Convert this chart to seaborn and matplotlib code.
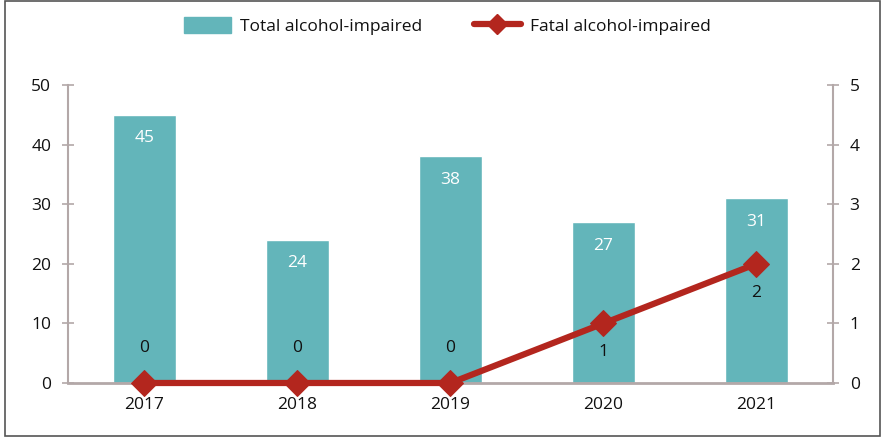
import matplotlib
matplotlib.use("Agg")
import matplotlib.pyplot as plt
import matplotlib.patches as mpatches
from matplotlib.lines import Line2D
import seaborn as sns
import pandas as pd

years = ["2017", "2018", "2019", "2020", "2021"]
total_impaired = [45, 24, 38, 27, 31]
fatal_impaired = [0, 0, 0, 1, 2]

bar_color = "#63b5ba"
line_color = "#b3261e"
spine_color = "#b3a8a8"

sns.set_style("white")
plt.rcParams["font.family"] = ["Open Sans", "DejaVu Sans"]
plt.rcParams["text.color"] = "#111111"

df = pd.DataFrame({"year": years, "total": total_impaired, "fatal": fatal_impaired})

fig = plt.figure(figsize=(8.84, 4.38), dpi=100)
ax = fig.add_axes([0.0769, 0.1256, 0.8654, 0.6804])

sns.barplot(data=df, x="year", y="total", color=bar_color, width=0.41,
            saturation=1, ax=ax)
ax.set_xlim(-0.5, 4.5)
ax.set_ylim(0, 50)
ax.set_yticks(range(0, 51, 10))
ax.set_xlabel("")
ax.set_ylabel("")

for i, v in enumerate(total_impaired):
    ax.text(i, v - 2.6, str(v), ha="center", va="top", color="white", fontsize=12.5)

ax2 = ax.twinx()
sns.lineplot(x=range(len(years)), y=fatal_impaired, color=line_color, lw=4.5,
             marker="D", markersize=13, markeredgecolor=line_color, ax=ax2)
for ln in ax2.lines:
    ln.set_clip_on(False)
    ln.set_zorder(5)
ax2.set_ylim(0, 5)
ax2.set_yticks(range(0, 6))
ax2.set_xlim(-0.5, 4.5)

for i, v in enumerate(fatal_impaired):
    if v == 0:
        ax2.text(i, v + 0.45, str(v), ha="center", va="bottom", fontsize=12.5)
    else:
        ax2.text(i, v - 0.35, str(v), ha="center", va="top", fontsize=12.5)

for a in (ax, ax2):
    for s in a.spines.values():
        s.set_visible(False)
    a.tick_params(axis="y", direction="inout", length=8, width=1.2,
                  color=spine_color, labelsize=12.5, labelcolor="#111111", pad=8)
ax.spines["left"].set_visible(True)
ax.spines["left"].set_color(spine_color)
ax.spines["left"].set_linewidth(1.5)
ax.spines["bottom"].set_visible(True)
ax.spines["bottom"].set_color(spine_color)
ax.spines["bottom"].set_linewidth(2)
ax2.spines["right"].set_visible(True)
ax2.spines["right"].set_color(spine_color)
ax2.spines["right"].set_linewidth(1.5)

ax.set_xticks([0.5, 1.5, 2.5, 3.5], minor=True)
ax.tick_params(axis="x", which="major", length=0, labelsize=12.5,
               labelcolor="#111111", pad=10)
ax.tick_params(axis="x", which="minor", direction="inout", length=8,
               color=spine_color, width=1.2)

handles = [
    mpatches.Patch(color=bar_color, label="Total alcohol-impaired"),
    Line2D([0], [0], color=line_color, lw=4.5, marker="D", markersize=10,
           label="Fatal alcohol-impaired"),
]
fig.legend(handles=handles, loc="center", bbox_to_anchor=(0.506, 0.94), ncol=2,
           frameon=False, fontsize=12.5, handlelength=2.7, handleheight=1.0,
           columnspacing=3.0, handletextpad=0.5)

fig.add_artist(mpatches.Rectangle((0.006, 0.004), 0.989, 0.994, transform=fig.transFigure,
                                  fill=False, edgecolor="#555555", lw=1.2))

fig.savefig("out.png", dpi=100)
